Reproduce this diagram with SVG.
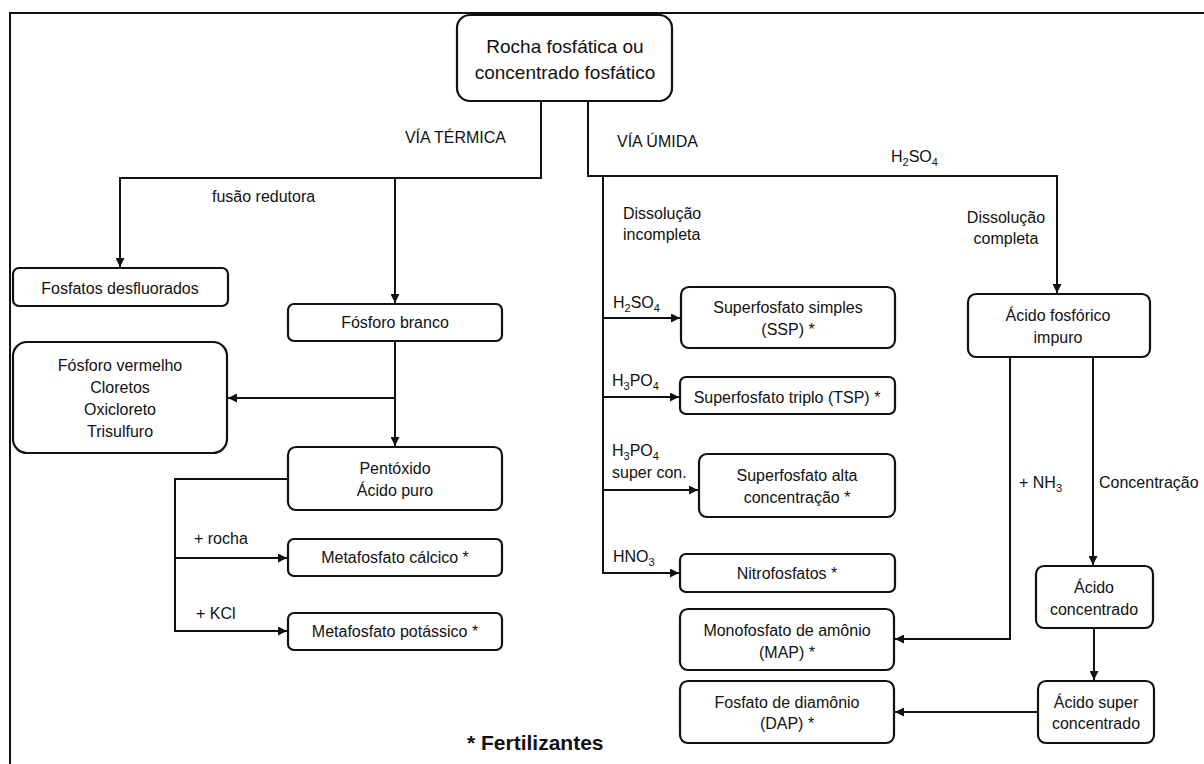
<svg xmlns="http://www.w3.org/2000/svg" width="1204" height="764" viewBox="0 0 1204 764">
<style>
text{font-family:"Liberation Sans",Arial,sans-serif;font-size:16px;fill:#111}
.c{text-anchor:middle}
.big{font-size:19px}
.b{font-weight:bold;font-size:21px}
.box{fill:#fff;stroke:#111;stroke-width:2.2}
.ln{fill:none;stroke:#111;stroke-width:2}
.sub{font-size:11px}
</style>
<defs>
<marker id="ah" viewBox="0 0 10 10" refX="10" refY="5" markerWidth="9" markerHeight="9" markerUnits="userSpaceOnUse" orient="auto">
<path d="M0,0 L10,5 L0,10 z" fill="#111"/>
</marker>
</defs>
<rect width="1204" height="764" fill="#fff"/>
<path d="M10,764 V13 H1204" fill="none" stroke="#111" stroke-width="2"/>

<g id="connectors">
<path class="ln" d="M541,101 V178 H120 V267" marker-end="url(#ah)"/>
<path class="ln" d="M395,178 V303" marker-end="url(#ah)"/>
<path class="ln" d="M395,341 V446" marker-end="url(#ah)"/>
<path class="ln" d="M395,398 H228" marker-end="url(#ah)"/>
<path class="ln" d="M288,479 H175 V631 H287" marker-end="url(#ah)"/>
<path class="ln" d="M175,558 H287" marker-end="url(#ah)"/>
<path class="ln" d="M588,101 V176 H1057 V293" marker-end="url(#ah)"/>
<path class="ln" d="M603,176 V573 H679" marker-end="url(#ah)"/>
<path class="ln" d="M603,318 H680" marker-end="url(#ah)"/>
<path class="ln" d="M603,397 H679" marker-end="url(#ah)"/>
<path class="ln" d="M603,490 H698" marker-end="url(#ah)"/>
<path class="ln" d="M1010,357 V639 H895" marker-end="url(#ah)"/>
<path class="ln" d="M1093,357 V565" marker-end="url(#ah)"/>
<path class="ln" d="M1094,628 V680" marker-end="url(#ah)"/>
<path class="ln" d="M1038,712 H895" marker-end="url(#ah)"/>
</g>

<g id="labels">
<text x="506" y="143" text-anchor="end">VÍA TÉRMICA</text>
<text x="212" y="202">fusão redutora</text>
<text x="617" y="147">VÍA ÚMIDA</text>
<text x="891" y="162">H<tspan class="sub" dy="4">2</tspan><tspan dy="-4">SO</tspan><tspan class="sub" dy="4">4</tspan></text>
<text x="623" y="219">Dissolução</text>
<text x="623" y="240">incompleta</text>
<text x="1006" y="223" class="c">Dissolução</text>
<text x="1006" y="244" class="c">completa</text>
<text x="613" y="308">H<tspan class="sub" dy="4">2</tspan><tspan dy="-4">SO</tspan><tspan class="sub" dy="4">4</tspan></text>
<text x="612" y="386">H<tspan class="sub" dy="4">3</tspan><tspan dy="-4">PO</tspan><tspan class="sub" dy="4">4</tspan></text>
<text x="612" y="456">H<tspan class="sub" dy="4">3</tspan><tspan dy="-4">PO</tspan><tspan class="sub" dy="4">4</tspan></text>
<text x="612" y="478">super con.</text>
<text x="613" y="562">HNO<tspan class="sub" dy="4">3</tspan></text>
<text x="194" y="544">+ rocha</text>
<text x="196" y="619">+ KCl</text>
<text x="1019" y="488">+ NH<tspan class="sub" dy="4">3</tspan></text>
<text x="1099" y="488">Concentração</text>
<text x="467" y="750" class="b">* Fertilizantes</text>
</g>

<g id="n-rocha"><rect class="box" x="457" y="15" width="215" height="86" rx="13"/>
<text class="c big" x="565" y="53">Rocha fosfática ou</text>
<text class="c big" x="565" y="79">concentrado fosfático</text></g>

<g id="n-desfluorados"><rect class="box" x="13" y="268" width="215" height="38" rx="6"/>
<text class="c" x="120" y="294">Fosfatos desfluorados</text></g>

<g id="n-branco"><rect class="box" x="288" y="304" width="214" height="37" rx="6"/>
<text class="c" x="395" y="328">Fósforo branco</text></g>

<g id="n-vermelho"><rect class="box" x="13" y="342" width="214" height="111" rx="14"/>
<text class="c" x="120" y="371">Fósforo vermelho</text>
<text class="c" x="120" y="393">Cloretos</text>
<text class="c" x="120" y="415">Oxicloreto</text>
<text class="c" x="120" y="437">Trisulfuro</text></g>

<g id="n-pentoxido"><rect class="box" x="288" y="447" width="214" height="63" rx="8"/>
<text class="c" x="395" y="474">Pentóxido</text>
<text class="c" x="395" y="496">Ácido puro</text></g>

<g id="n-calcico"><rect class="box" x="288" y="539" width="214" height="37" rx="6"/>
<text class="c" x="395" y="563">Metafosfato cálcico *</text></g>

<g id="n-potassico"><rect class="box" x="288" y="613" width="214" height="37" rx="6"/>
<text class="c" x="395" y="637">Metafosfato potássico *</text></g>

<g id="n-ssp"><rect class="box" x="681" y="287" width="214" height="61" rx="8"/>
<text class="c" x="788" y="313">Superfosfato simples</text>
<text class="c" x="788" y="335">(SSP) *</text></g>

<g id="n-tsp"><rect class="box" x="680" y="377" width="215" height="37" rx="6"/>
<text class="c" x="787" y="403">Superfosfato triplo (TSP) *</text></g>

<g id="n-alta"><rect class="box" x="699" y="454" width="196" height="63" rx="8"/>
<text class="c" x="797" y="481">Superfosfato alta</text>
<text class="c" x="797" y="503">concentração *</text></g>

<g id="n-nitro"><rect class="box" x="680" y="554" width="215" height="38" rx="6"/>
<text class="c" x="787" y="579">Nitrofosfatos *</text></g>

<g id="n-map"><rect class="box" x="680" y="609" width="214" height="61" rx="8"/>
<text class="c" x="787" y="636">Monofosfato de amônio</text>
<text class="c" x="787" y="658">(MAP) *</text></g>

<g id="n-dap"><rect class="box" x="680" y="681" width="214" height="62" rx="8"/>
<text class="c" x="787" y="708">Fosfato de diamônio</text>
<text class="c" x="787" y="729">(DAP) *</text></g>

<g id="n-impuro"><rect class="box" x="968" y="294" width="182" height="63" rx="8"/>
<text class="c" x="1058" y="321">Ácido fosfórico</text>
<text class="c" x="1058" y="343">impuro</text></g>

<g id="n-concentrado"><rect class="box" x="1036" y="566" width="117" height="62" rx="8"/>
<text class="c" x="1094" y="593">Ácido</text>
<text class="c" x="1094" y="615">concentrado</text></g>

<g id="n-super"><rect class="box" x="1038" y="681" width="116" height="62" rx="8"/>
<text class="c" x="1096" y="708">Ácido super</text>
<text class="c" x="1096" y="729">concentrado</text></g>
</svg>
